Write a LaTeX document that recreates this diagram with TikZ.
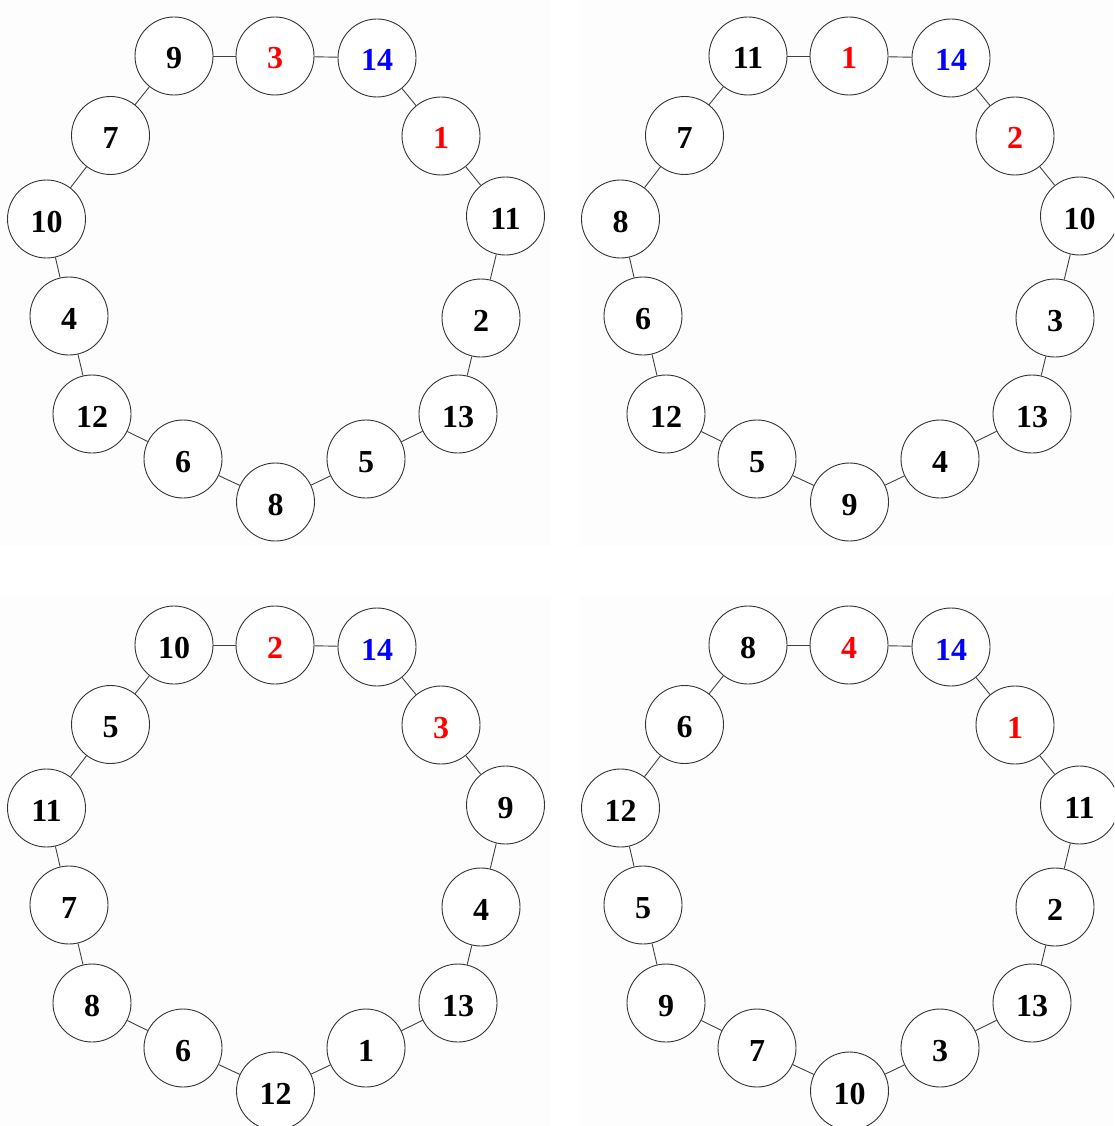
\documentclass[tikz,border=0pt]{standalone}
\usepackage{fontspec}
\setmainfont{Liberation Serif}
\definecolor{panel}{RGB}{253,253,253}
\tikzset{
  ball/.style={circle, draw=black!80, line width=0.9pt, fill=white,
    minimum size=78pt, inner sep=0pt,
    font=\bfseries\fontsize{32}{32}\selectfont, text height=26pt, text depth=0pt},
  ringedge/.style={draw=black!75, line width=0.9pt},
  panelbg/.style={fill=panel, draw=none}
}
\def\ringpos{174/56,275/56,377/58,441/136,505.5/216,481/318,458/414,366/459,275.5/502,183/459,92/414,69/316,46.5/219,110.5/135.5}
\newcommand\ringdraw[4]{%
  \foreach [count=\i] \px/\py in \ringpos {
    \coordinate (#1c\i) at (\px+#2,\py+#3);
  }
  \foreach [count=\i] \lab/\col in {#4} {
    \node[ball, text=\col] (#1n\i) at (#1c\i) {\lab};
  }
  \foreach \i in {1,...,14} {
    \pgfmathtruncatemacro\j{mod(\i,14)+1}
    \draw[ringedge] (#1n\i) -- (#1n\j);
  }
}
\begin{document}
\begin{tikzpicture}[x=1pt,y=-1pt]
\useasboundingbox (0,0) rectangle (1114,1126);
\clip (0,0) rectangle (1114,1126);
\fill[panelbg] (0,0) rectangle (551,546);
\fill[panelbg] (580,0) rectangle (1114,546);
\fill[panelbg] (0,595) rectangle (551,1126);
\fill[panelbg] (580,595) rectangle (1114,1126);
\ringdraw{a}{0}{0}{9/black,3/red,14/blue,1/red,11/black,2/black,13/black,5/black,8/black,6/black,12/black,4/black,10/black,7/black}
\ringdraw{b}{574}{0}{11/black,1/red,14/blue,2/red,10/black,3/black,13/black,4/black,9/black,5/black,12/black,6/black,8/black,7/black}
\ringdraw{c}{0}{589}{10/black,2/red,14/blue,3/red,9/black,4/black,13/black,1/black,12/black,6/black,8/black,7/black,11/black,5/black}
\ringdraw{d}{574}{589}{8/black,4/red,14/blue,1/red,11/black,2/black,13/black,3/black,10/black,7/black,9/black,5/black,12/black,6/black}
\end{tikzpicture}
\end{document}
